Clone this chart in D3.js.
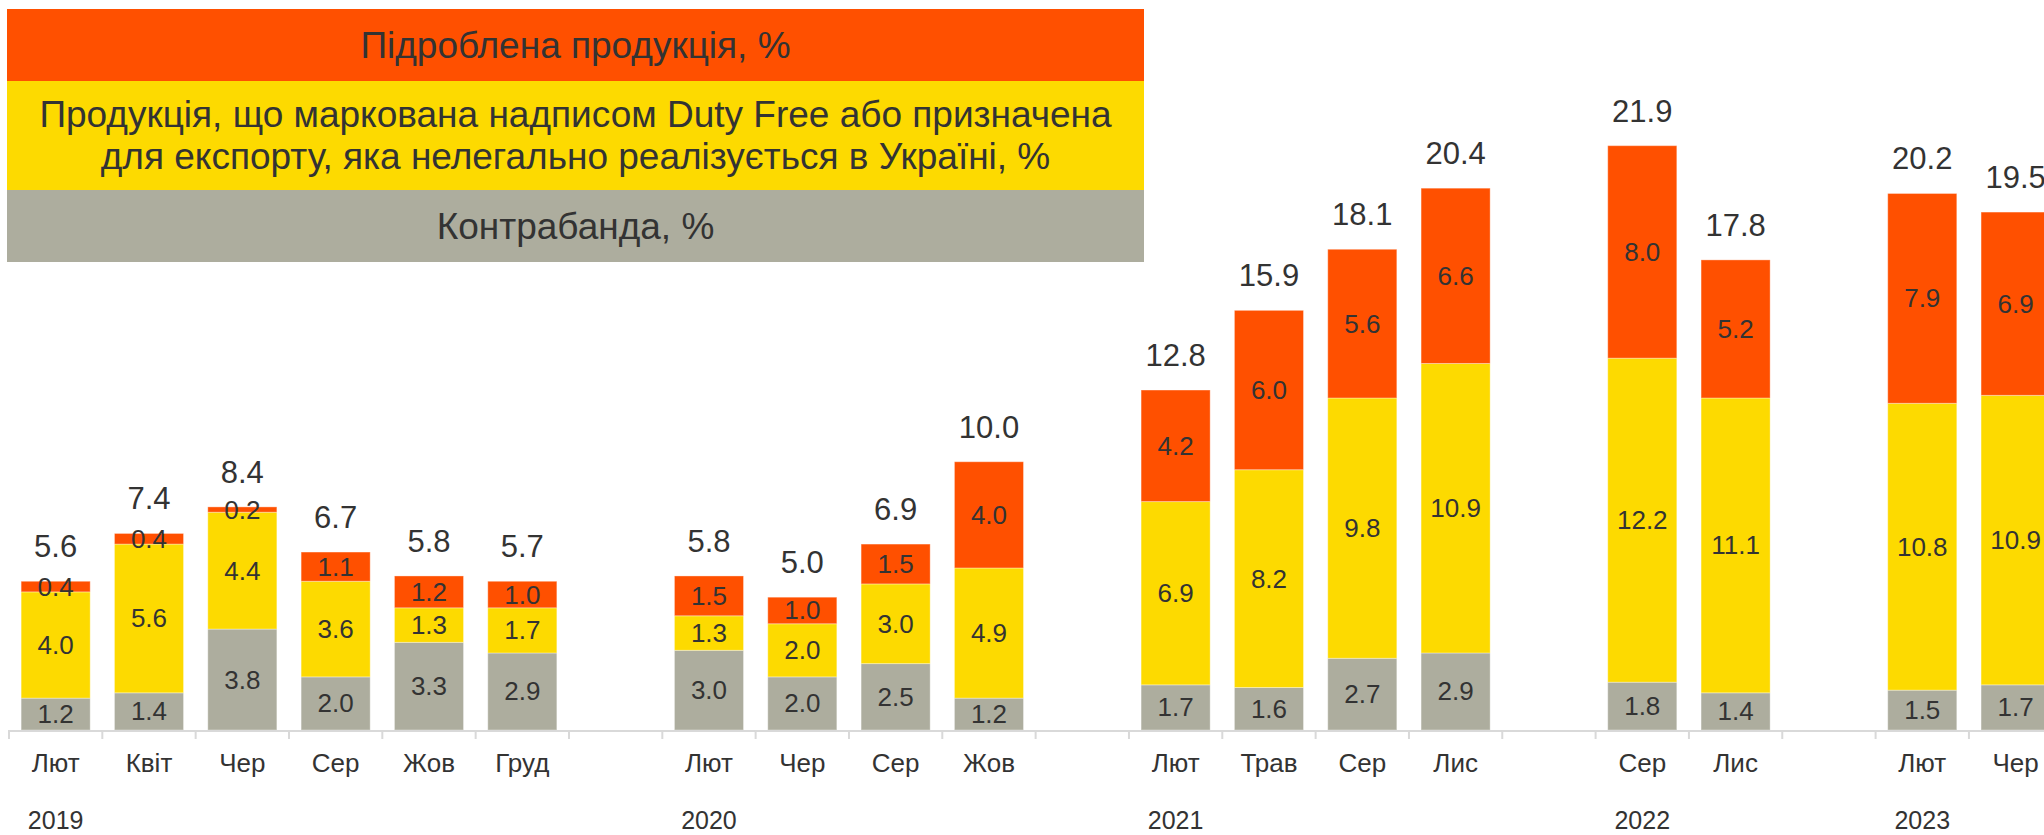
<!DOCTYPE html>
<html>
<head>
<meta charset="utf-8">
<script src="https://cdn.jsdelivr.net/npm/d3@7"></script>
<style>
    html, body { margin: 0; padding: 0; background: #fff; overflow: hidden; }
    svg { display: block; font-family: 'Liberation Sans', Arial, sans-serif; }
</style>
</head>
<body>
<svg id="chart" width="2044" height="835"></svg>
<script>
// one entry per slot on the axis, null = empty slot between years
const months = ['Лют', 'Квіт', 'Чер', 'Сер', 'Жов', 'Груд', null,
    'Лют', 'Чер', 'Сер', 'Жов', null,
    'Лют', 'Трав', 'Сер', 'Лис', null,
    'Сер', 'Лис', null,
    'Лют', 'Чер'];
const years = ['2019', null, null, null, null, null, null,
    '2020', null, null, null, null,
    '2021', null, null, null, null,
    '2022', null, null,
    '2023', null];

const contraband = [1.2, 1.4, 3.8, 2.0, 3.3, 2.9, null, 3.0, 2.0, 2.5, 1.2, null, 1.7, 1.6, 2.7, 2.9, null, 1.8, 1.4, null, 1.5, 1.7];
const dutyFree = [4.0, 5.6, 4.4, 3.6, 1.3, 1.7, null, 1.3, 2.0, 3.0, 4.9, null, 6.9, 8.2, 9.8, 10.9, null, 12.2, 11.1, null, 10.8, 10.9];
const counterfeit = [0.4, 0.4, 0.2, 1.1, 1.2, 1.0, null, 1.5, 1.0, 1.5, 4.0, null, 4.2, 6.0, 5.6, 6.6, null, 8.0, 5.2, null, 7.9, 6.9];
const totals = [5.6, 7.4, 8.4, 6.7, 5.8, 5.7, null, 5.8, 5.0, 6.9, 10.0, null, 12.8, 15.9, 18.1, 20.4, null, 21.9, 17.8, null, 20.2, 19.5];

const seriesNames = [
    'Контрабанда, %',
    'Продукція, що маркована надписом Duty Free або призначена для експорту, яка нелегально реалізується в Україні, %',
    'Підроблена продукція, %'
];
const seriesColors = ['#adad9e', '#fdda00', '#ff5000'];

const textColor = '#333';
const svg = d3.select('#chart');

const slots = d3.range(months.length);
const rows = slots.map(i => ({ i, s0: contraband[i], s1: dutyFree[i], s2: counterfeit[i], total: totals[i] }));

const x = d3.scaleBand()
    .domain(slots)
    .range([9, 9 + 93.33 * slots.length])
    .paddingInner(0.26)
    .paddingOuter(0.13);

const y = d3.scaleLinear()
    .domain([0, 25])
    .range([730, 730 - 25 * 26.56]);

const stack = d3.stack().keys(['s0', 's1', 's2']);
const stacked = stack(rows.filter(d => d.total != null));

// bars
const layers = svg.append('g')
    .selectAll('g')
    .data(stacked)
    .join('g')
        .attr('fill', (d, k) => seriesColors[k]);

layers.selectAll('rect')
    .data(d => d)
    .join('rect')
        .attr('x', d => x(d.data.i))
        .attr('width', x.bandwidth())
        .attr('y', d => y(d[1]))
        .attr('height', d => y(d[0]) - y(d[1]))
        .attr('stroke', '#fff')
        .attr('stroke-opacity', 0.35)
        .attr('stroke-width', 1);

layers.selectAll('text')
    .data(d => d)
    .join('text')
        .attr('x', d => x(d.data.i) + x.bandwidth() / 2)
        .attr('y', d => (y(d[0]) + y(d[1])) / 2)
        .attr('text-anchor', 'middle')
        .attr('dominant-baseline', 'central')
        .attr('fill', textColor)
        .style('font-size', '26px')
        .text(d => d3.format('.1f')(d[1] - d[0]));

// totals above the bars
svg.append('g')
    .selectAll('text')
    .data(rows.filter(d => d.total != null))
    .join('text')
        .attr('x', d => x(d.i) + x.bandwidth() / 2)
        .attr('y', d => y(d.s0 + d.s1 + d.s2) - 24)
        .attr('text-anchor', 'middle')
        .attr('fill', textColor)
        .style('font-size', '31px')
        .text(d => d3.format('.1f')(d.total));

// axis: baseline with ticks on slot boundaries
const axis = svg.append('g');
const step = x.step();
const edge = i => x(i) - x.paddingOuter() * step;

axis.append('line')
    .attr('x1', edge(0))
    .attr('x2', 2044)
    .attr('y1', y(0) + 1)
    .attr('y2', y(0) + 1)
    .attr('stroke', '#d9d9d9')
    .attr('stroke-width', 2);

axis.selectAll('line.tick')
    .data(slots)
    .join('line')
        .attr('class', 'tick')
        .attr('x1', edge)
        .attr('x2', edge)
        .attr('y1', y(0))
        .attr('y2', y(0) + 9)
        .attr('stroke', '#d9d9d9')
        .attr('stroke-width', 2);

axis.selectAll('text.month')
    .data(slots.filter(i => months[i]))
    .join('text')
        .attr('class', 'month')
        .attr('x', i => x(i) + x.bandwidth() / 2)
        .attr('y', 763)
        .attr('text-anchor', 'middle')
        .attr('dominant-baseline', 'central')
        .attr('fill', textColor)
        .style('font-size', '26px')
        .text(i => months[i]);

axis.selectAll('text.year')
    .data(slots.filter(i => years[i]))
    .join('text')
        .attr('class', 'year')
        .attr('x', i => x(i) + x.bandwidth() / 2)
        .attr('y', 820)
        .attr('text-anchor', 'middle')
        .attr('dominant-baseline', 'central')
        .attr('fill', textColor)
        .style('font-size', '25px')
        .text(i => years[i]);

// legend block, top-left, top series first
const legendRows = [
    { k: 2, y: 9, h: 72, lines: [seriesNames[2]] },
    { k: 1, y: 81, h: 109, lines: ['Продукція, що маркована надписом Duty Free або призначена', 'для експорту, яка нелегально реалізується в Україні, %'] },
    { k: 0, y: 190, h: 72, lines: [seriesNames[0]] }
];

const legend = svg.append('g').attr('transform', 'translate(7,0)');
const legendW = 1137;

const items = legend.selectAll('g')
    .data(legendRows)
    .join('g');

items.append('rect')
    .attr('x', 0)
    .attr('y', d => d.y)
    .attr('width', legendW)
    .attr('height', d => d.h)
    .attr('fill', d => seriesColors[d.k]);

items.each(function(d) {
    const lineH = 42;
    const cy = d.y + d.h / 2 - (d.lines.length - 1) * lineH / 2;
    d3.select(this).selectAll('text')
        .data(d.lines)
        .join('text')
            .attr('x', legendW / 2)
            .attr('y', (t, j) => cy + j * lineH)
            .attr('text-anchor', 'middle')
            .attr('dominant-baseline', 'central')
            .attr('fill', textColor)
            .style('font-size', '37px')
            .text(t => t);
});
</script>
</body>
</html>
